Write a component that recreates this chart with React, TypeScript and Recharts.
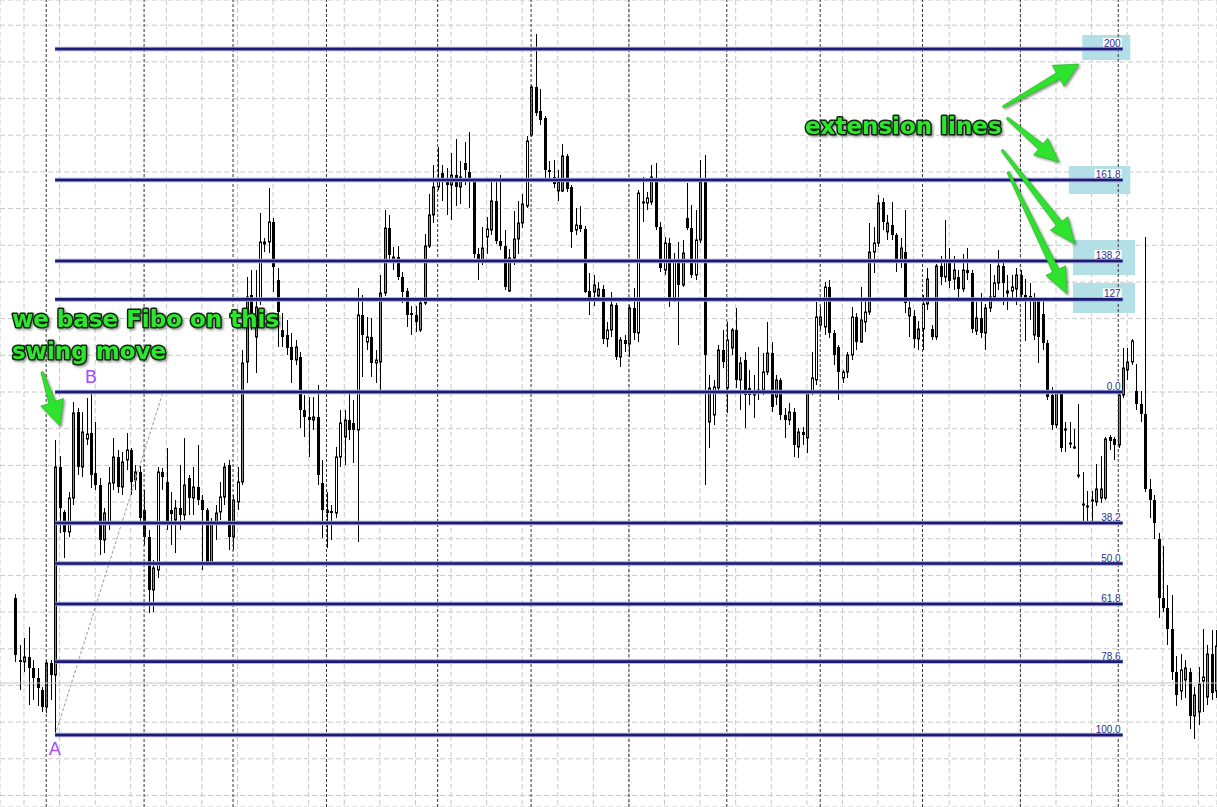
import React from 'react';
import { ComposedChart, Bar, XAxis, YAxis, CartesianGrid, ReferenceLine, ReferenceArea } from 'recharts';

// H1 candles, index 0 = leftmost bar on screen
const OPEN = [
  1.3209, 1.3147, 1.3145, 1.3150, 1.3139, 1.3129, 1.3117, 1.3100, 1.3144, 1.3132,
  1.3340, 1.3295, 1.3275, 1.3309, 1.3395, 1.3340, 1.3368, 1.3374, 1.3334, 1.3322,
  1.3267, 1.3284, 1.3324, 1.3350, 1.3320, 1.3347, 1.3357, 1.3327, 1.3335, 1.3297,
  1.3270, 1.3217, 1.3237, 1.3335, 1.3325, 1.3297, 1.3287, 1.3299, 1.3292, 1.3329,
  1.3309, 1.3320, 1.3307, 1.3297, 1.3244, 1.3284, 1.3295, 1.3310, 1.3342, 1.3270,
  1.3305, 1.3325, 1.3445, 1.3512, 1.3470, 1.3507, 1.3563, 1.3565, 1.3585, 1.3527,
  1.3477, 1.3472, 1.3460, 1.3447, 1.3450, 1.3397, 1.3390, 1.3387, 1.3390, 1.3324,
  1.3297, 1.3296, 1.3294, 1.3350, 1.3370, 1.3387, 1.3384, 1.3377, 1.3492, 1.3465,
  1.3470, 1.3444, 1.3445, 1.3514, 1.3579, 1.3546, 1.3550, 1.3530, 1.3516, 1.3494,
  1.3492, 1.3477, 1.3504, 1.3561, 1.3592, 1.3620, 1.3634, 1.3625, 1.3622, 1.3632,
  1.3620, 1.3644, 1.3635, 1.3625, 1.3553, 1.3547, 1.3570, 1.3577, 1.3606, 1.3566,
  1.3561, 1.3516, 1.3549, 1.3568, 1.3584, 1.3601, 1.3672, 1.3720, 1.3696, 1.3689,
  1.3637, 1.3630, 1.3616, 1.3616, 1.3651, 1.3620, 1.3577, 1.3582, 1.3578, 1.3516,
  1.3515, 1.3511, 1.3518, 1.3468, 1.3477, 1.3502, 1.3450, 1.3467, 1.3463, 1.3499,
  1.3474, 1.3604, 1.3604, 1.3605, 1.3629, 1.3580, 1.3537, 1.3564, 1.3509, 1.3545,
  1.3522, 1.3589, 1.3579, 1.3532, 1.3567, 1.3625, 1.3385, 1.3392, 1.3419, 1.3457,
  1.3419, 1.3459, 1.3477, 1.3427, 1.3447, 1.3419, 1.3412, 1.3414, 1.3417, 1.3435,
  1.3454, 1.3410, 1.3427, 1.3392, 1.3387, 1.3395, 1.3360, 1.3375, 1.3369, 1.3415,
  1.3427, 1.3482, 1.3480, 1.3520, 1.3474, 1.3460, 1.3429, 1.3435, 1.3452, 1.3490,
  1.3465, 1.3485, 1.3495, 1.3555, 1.3564, 1.3605, 1.3575, 1.3582, 1.3572, 1.3545,
  1.3555, 1.3491, 1.3491, 1.3468, 1.3478, 1.3503, 1.3478, 1.3470, 1.3541, 1.3530,
  1.3545, 1.3528, 1.3530, 1.3518, 1.3537, 1.3534, 1.3476, 1.3489, 1.3474, 1.3499,
  1.3510, 1.3524, 1.3541, 1.3514, 1.3516, 1.3518, 1.3532, 1.3512, 1.3511, 1.3472,
  1.3507, 1.3493, 1.3464, 1.3412, 1.3382, 1.3414, 1.3378, 1.3364, 1.3360, 1.3332,
  1.3303, 1.3301, 1.3307, 1.3305, 1.3309, 1.3309, 1.3370, 1.3368, 1.3362, 1.3412,
  1.3437, 1.3445, 1.3416, 1.3403, 1.3393, 1.3318, 1.3307, 1.3268, 1.3209, 1.3199,
  1.3178, 1.3135, 1.3116, 1.3127, 1.3135, 1.3091, 1.3095, 1.3126, 1.3110, 1.3153, 1.3116,
];

const HIGH = [
  1.3213, 1.3162, 1.3169, 1.3180, 1.3147, 1.3139, 1.3120, 1.3147, 1.3147, 1.3367,
  1.3351, 1.3297, 1.3315, 1.3405, 1.3399, 1.3395, 1.3409, 1.3415, 1.3385, 1.3329,
  1.3299, 1.3340, 1.3369, 1.3357, 1.3355, 1.3374, 1.3359, 1.3342, 1.3341, 1.3317,
  1.3277, 1.3247, 1.3340, 1.3339, 1.3359, 1.3315, 1.3307, 1.3342, 1.3369, 1.3332,
  1.3340, 1.3362, 1.3312, 1.3299, 1.3289, 1.3302, 1.3325, 1.3344, 1.3347, 1.3312,
  1.3340, 1.3457, 1.3530, 1.3537, 1.3537, 1.3594, 1.3569, 1.3619, 1.3589, 1.3539,
  1.3494, 1.3487, 1.3474, 1.3467, 1.3455, 1.3412, 1.3410, 1.3410, 1.3422, 1.3347,
  1.3315, 1.3302, 1.3360, 1.3397, 1.3397, 1.3415, 1.3407, 1.3519, 1.3512, 1.3490,
  1.3489, 1.3457, 1.3532, 1.3597, 1.3592, 1.3560, 1.3561, 1.3535, 1.3519, 1.3501,
  1.3501, 1.3509, 1.3573, 1.3613, 1.3642, 1.3660, 1.3642, 1.3639, 1.3654, 1.3668,
  1.3646, 1.3665, 1.3675, 1.3629, 1.3559, 1.3580, 1.3590, 1.3625, 1.3625, 1.3632,
  1.3577, 1.3558, 1.3596, 1.3606, 1.3613, 1.3671, 1.3722, 1.3773, 1.3718, 1.3691,
  1.3646, 1.3647, 1.3637, 1.3663, 1.3653, 1.3622, 1.3599, 1.3601, 1.3581, 1.3534,
  1.3532, 1.3525, 1.3522, 1.3485, 1.3515, 1.3504, 1.3470, 1.3472, 1.3502, 1.3519,
  1.3617, 1.3630, 1.3615, 1.3642, 1.3644, 1.3585, 1.3570, 1.3569, 1.3554, 1.3565,
  1.3567, 1.3624, 1.3602, 1.3597, 1.3647, 1.3652, 1.3432, 1.3427, 1.3462, 1.3477,
  1.3485, 1.3479, 1.3499, 1.3450, 1.3455, 1.3437, 1.3432, 1.3460, 1.3454, 1.3485,
  1.3465, 1.3432, 1.3429, 1.3399, 1.3404, 1.3399, 1.3379, 1.3380, 1.3417, 1.3455,
  1.3505, 1.3500, 1.3525, 1.3527, 1.3477, 1.3462, 1.3437, 1.3455, 1.3500, 1.3494,
  1.3520, 1.3509, 1.3584, 1.3580, 1.3612, 1.3609, 1.3592, 1.3605, 1.3574, 1.3569,
  1.3597, 1.3507, 1.3497, 1.3486, 1.3512, 1.3539, 1.3482, 1.3543, 1.3551, 1.3587,
  1.3559, 1.3551, 1.3537, 1.3553, 1.3559, 1.3537, 1.3505, 1.3514, 1.3503, 1.3543,
  1.3532, 1.3557, 1.3545, 1.3532, 1.3532, 1.3539, 1.3537, 1.3528, 1.3524, 1.3514,
  1.3509, 1.3507, 1.3467, 1.3420, 1.3417, 1.3417, 1.3385, 1.3385, 1.3378, 1.3403,
  1.3335, 1.3316, 1.3316, 1.3343, 1.3351, 1.3370, 1.3372, 1.3370, 1.3414, 1.3459,
  1.3459, 1.3468, 1.3443, 1.3416, 1.3570, 1.3328, 1.3312, 1.3274, 1.3261, 1.3222,
  1.3212, 1.3151, 1.3153, 1.3147, 1.3139, 1.3120, 1.3140, 1.3178, 1.3162, 1.3177, 1.3177,
];

const LOW = [
  1.3145, 1.3117, 1.3135, 1.3102, 1.3107, 1.3101, 1.3095, 1.3094, 1.3107, 1.3072,
  1.3274, 1.3249, 1.3270, 1.3302, 1.3332, 1.3330, 1.3362, 1.3319, 1.3317, 1.3252,
  1.3254, 1.3277, 1.3317, 1.3314, 1.3312, 1.3337, 1.3312, 1.3317, 1.3282, 1.3262,
  1.3194, 1.3195, 1.3229, 1.3317, 1.3277, 1.3262, 1.3254, 1.3277, 1.3287, 1.3292,
  1.3292, 1.3302, 1.3237, 1.3242, 1.3242, 1.3267, 1.3287, 1.3302, 1.3257, 1.3257,
  1.3297, 1.3322, 1.3424, 1.3477, 1.3434, 1.3502, 1.3555, 1.3554, 1.3515, 1.3460,
  1.3460, 1.3452, 1.3424, 1.3442, 1.3379, 1.3370, 1.3350, 1.3377, 1.3322, 1.3269,
  1.3259, 1.3267, 1.3289, 1.3340, 1.3342, 1.3367, 1.3344, 1.3265, 1.3430, 1.3457,
  1.3430, 1.3424, 1.3415, 1.3511, 1.3545, 1.3537, 1.3527, 1.3504, 1.3480, 1.3472,
  1.3475, 1.3475, 1.3502, 1.3559, 1.3584, 1.3617, 1.3606, 1.3592, 1.3587, 1.3601,
  1.3603, 1.3622, 1.3599, 1.3549, 1.3527, 1.3542, 1.3553, 1.3572, 1.3563, 1.3557,
  1.3517, 1.3515, 1.3542, 1.3553, 1.3579, 1.3599, 1.3670, 1.3691, 1.3682, 1.3625,
  1.3625, 1.3619, 1.3606, 1.3615, 1.3615, 1.3559, 1.3572, 1.3575, 1.3514, 1.3492,
  1.3501, 1.3509, 1.3463, 1.3460, 1.3470, 1.3447, 1.3440, 1.3455, 1.3450, 1.3467,
  1.3465, 1.3585, 1.3597, 1.3602, 1.3577, 1.3535, 1.3532, 1.3500, 1.3505, 1.3462,
  1.3520, 1.3577, 1.3529, 1.3527, 1.3564, 1.3322, 1.3359, 1.3382, 1.3414, 1.3439,
  1.3394, 1.3452, 1.3419, 1.3397, 1.3379, 1.3402, 1.3389, 1.3407, 1.3412, 1.3432,
  1.3395, 1.3402, 1.3387, 1.3369, 1.3382, 1.3350, 1.3349, 1.3362, 1.3354, 1.3412,
  1.3422, 1.3477, 1.3472, 1.3469, 1.3442, 1.3407, 1.3424, 1.3429, 1.3447, 1.3457,
  1.3464, 1.3475, 1.3492, 1.3534, 1.3560, 1.3577, 1.3567, 1.3567, 1.3535, 1.3539,
  1.3494, 1.3470, 1.3459, 1.3457, 1.3457, 1.3497, 1.3467, 1.3467, 1.3522, 1.3525,
  1.3519, 1.3517, 1.3507, 1.3515, 1.3527, 1.3474, 1.3472, 1.3469, 1.3457, 1.3495,
  1.3507, 1.3517, 1.3502, 1.3497, 1.3507, 1.3502, 1.3507, 1.3466, 1.3487, 1.3467,
  1.3444, 1.3457, 1.3407, 1.3377, 1.3379, 1.3355, 1.3355, 1.3359, 1.3358, 1.3329,
  1.3286, 1.3286, 1.3284, 1.3301, 1.3304, 1.3307, 1.3357, 1.3347, 1.3359, 1.3409,
  1.3427, 1.3442, 1.3397, 1.3385, 1.3315, 1.3289, 1.3268, 1.3189, 1.3195, 1.3162,
  1.3127, 1.3101, 1.3107, 1.3109, 1.3078, 1.3068, 1.3082, 1.3095, 1.3102, 1.3107, 1.3109,
];

const CLOSE = [
  1.3152, 1.3145, 1.3150, 1.3139, 1.3129, 1.3119, 1.3100, 1.3144, 1.3132, 1.3340,
  1.3299, 1.3275, 1.3309, 1.3394, 1.3340, 1.3375, 1.3373, 1.3332, 1.3322, 1.3267,
  1.3294, 1.3324, 1.3350, 1.3320, 1.3345, 1.3357, 1.3325, 1.3335, 1.3289, 1.3270,
  1.3217, 1.3239, 1.3335, 1.3330, 1.3284, 1.3293, 1.3299, 1.3292, 1.3322, 1.3309,
  1.3320, 1.3307, 1.3297, 1.3245, 1.3285, 1.3294, 1.3310, 1.3340, 1.3270, 1.3307,
  1.3325, 1.3444, 1.3510, 1.3487, 1.3500, 1.3565, 1.3565, 1.3585, 1.3540, 1.3495,
  1.3470, 1.3459, 1.3447, 1.3460, 1.3397, 1.3390, 1.3387, 1.3390, 1.3332, 1.3297,
  1.3294, 1.3294, 1.3350, 1.3384, 1.3387, 1.3377, 1.3377, 1.3492, 1.3472, 1.3470,
  1.3444, 1.3447, 1.3514, 1.3579, 1.3552, 1.3550, 1.3530, 1.3515, 1.3492, 1.3492,
  1.3485, 1.3504, 1.3561, 1.3592, 1.3620, 1.3628, 1.3627, 1.3622, 1.3632, 1.3620,
  1.3630, 1.3637, 1.3625, 1.3553, 1.3547, 1.3559, 1.3578, 1.3606, 1.3566, 1.3561,
  1.3520, 1.3549, 1.3568, 1.3584, 1.3603, 1.3666, 1.3720, 1.3694, 1.3687, 1.3637,
  1.3635, 1.3623, 1.3625, 1.3651, 1.3618, 1.3575, 1.3582, 1.3578, 1.3515, 1.3506,
  1.3522, 1.3518, 1.3468, 1.3477, 1.3502, 1.3450, 1.3467, 1.3463, 1.3499, 1.3474,
  1.3614, 1.3605, 1.3609, 1.3630, 1.3580, 1.3539, 1.3564, 1.3509, 1.3545, 1.3522,
  1.3554, 1.3579, 1.3532, 1.3567, 1.3625, 1.3452, 1.3419, 1.3420, 1.3457, 1.3445,
  1.3467, 1.3477, 1.3427, 1.3444, 1.3412, 1.3412, 1.3415, 1.3417, 1.3435, 1.3454,
  1.3400, 1.3427, 1.3392, 1.3387, 1.3395, 1.3362, 1.3375, 1.3372, 1.3415, 1.3429,
  1.3490, 1.3490, 1.3520, 1.3474, 1.3452, 1.3435, 1.3435, 1.3452, 1.3490, 1.3465,
  1.3487, 1.3495, 1.3555, 1.3564, 1.3604, 1.3585, 1.3584, 1.3572, 1.3545, 1.3559,
  1.3504, 1.3499, 1.3468, 1.3478, 1.3503, 1.3528, 1.3470, 1.3541, 1.3530, 1.3545,
  1.3526, 1.3537, 1.3518, 1.3537, 1.3534, 1.3478, 1.3489, 1.3474, 1.3499, 1.3510,
  1.3524, 1.3541, 1.3524, 1.3516, 1.3520, 1.3532, 1.3512, 1.3509, 1.3508, 1.3509,
  1.3470, 1.3464, 1.3410, 1.3382, 1.3414, 1.3359, 1.3378, 1.3364, 1.3360, 1.3332,
  1.3303, 1.3301, 1.3307, 1.3318, 1.3318, 1.3368, 1.3366, 1.3362, 1.3412, 1.3439,
  1.3445, 1.3466, 1.3403, 1.3393, 1.3318, 1.3307, 1.3284, 1.3209, 1.3199, 1.3178,
  1.3135, 1.3112, 1.3137, 1.3139, 1.3091, 1.3112, 1.3123, 1.3130, 1.3153, 1.3114, 1.3161,
];

// bull bars that render white instead of grey
const HOLLOW_BULLS = [12, 16, 21, 25, 32, 46, 50, 55, 56, 57, 72, 73, 77, 79, 81, 95, 106, 115, 126, 133, 140, 141, 142, 146, 148, 153, 157, 160, 168, 179, 180, 182, 186, 188, 191, 193, 204, 209, 220, 224, 242, 251, 262, 267];

// fibo drawn from swing low A to swing high B
const SWING_LOW = 1.3072;
const SWING_HIGH = 1.3415;
const RETRACE_LEVELS = [0, 38.2, 50, 61.8, 78.6, 100];
const RETRACE_LABELS = ['0.0', '38.2', '50.0', '61.8', '78.6', '100.0'];
const EXT_LEVELS = [127, 138.2, 161.8, 200];
const EXT_LABELS = ['127', '138.2', '161.8', '200'];

const FIBO_START = 9;
const FIBO_END = 249;
const FIBO_B_ANCHOR = 33.25;

const SESSION_BREAKS = [7, 29, 49, 70, 95, 116, 138, 160, 181, 204, 226, 248];
const LAST_PRICE = 1.3124;

const X_GRID = [2, 10, 18, 26, 34, 42, 50, 58, 66, 74, 82, 90, 98, 106, 114, 122, 130, 138, 146, 154, 162, 170, 178, 186, 194, 202, 210, 218, 226, 234, 242, 250, 258, 266];
const Y_GRID = [1.30115, 1.30482, 1.30849, 1.31216, 1.31582, 1.31949, 1.32316, 1.32683, 1.3305, 1.33416, 1.33783, 1.3415, 1.34517, 1.34884, 1.3525, 1.35617, 1.35984, 1.36351, 1.36718, 1.37084, 1.37451, 1.37818];

const X_DOMAIN = [-3.39, 270.2];
const Y_DOMAIN = [1.3, 1.3807];

// light blue highlight boxes behind the extension labels
const EXT_BOXES = [
  { x1: 239.9, x2: 250.7, y1: 1.3747, y2: 1.3772 },
  { x1: 236.9, x2: 250.7, y1: 1.3613, y2: 1.3641 },
  { x1: 237.8, x2: 251.8, y1: 1.3532, y2: 1.3567 },
  { x1: 237.8, x2: 251.8, y1: 1.3494, y2: 1.3524 },
];

const hollow = new Set(HOLLOW_BULLS);
const range = SWING_HIGH - SWING_LOW;
const retracePrices = RETRACE_LEVELS.map((l) => SWING_HIGH - (l / 100) * range);
const extPrices = EXT_LEVELS.map((l) => SWING_LOW + (l / 100) * range);

const candles = OPEN.map((open, idx) => ({
  idx,
  open,
  high: HIGH[idx],
  low: LOW[idx],
  close: CLOSE[idx],
  range: [LOW[idx], HIGH[idx]],
}));

const Candle = (props: any) => {
  const { x, y, width, height, payload } = props;
  if (payload == null || height == null) return null;
  const { open, high, low, close, idx } = payload;
  const cx = Math.round(x + width / 2) + 0.5;
  const span = high - low || 1e-9;
  const py = (p: number) => y + ((high - p) / span) * height;
  const top = py(Math.max(open, close));
  const bot = py(Math.min(open, close));
  const bull = close >= open;
  return (
    <g>
      <line x1={cx} x2={cx} y1={y} y2={y + height} stroke="#000" strokeWidth={1} />
      {bull ? (
        <rect x={cx - 1} y={top} width={2} height={Math.max(bot - top, 1)} fill={hollow.has(idx) ? '#fff' : '#8a8a8a'} stroke="#000" strokeWidth={1} />
      ) : (
        <rect x={cx - 1.5} y={top} width={3} height={Math.max(bot - top, 1)} fill="#000" />
      )}
    </g>
  );
};

const labelWidth = (t: string) => t.split('').reduce((s, c) => s + (c === '.' ? 2.8 : 5.6), 0);

const FibLabel = (props: any) => {
  const { viewBox, text } = props;
  if (!viewBox) return null;
  const right = viewBox.x + viewBox.width - 2;
  const base = viewBox.y - 2;
  const w = labelWidth(text);
  return (
    <g>
      <rect x={right - w - 1} y={base - 9} width={w + 2} height={9} fill="#fff" />
      <text x={right} y={base} textAnchor="end" fontSize={10} fontFamily="'Liberation Sans', Arial, sans-serif" fill="#2d2d8c">
        {text}
      </text>
    </g>
  );
};

const arrowPoints = (x1: number, y1: number, x2: number, y2: number, headLen: number, headHalf: number) => {
  const len = Math.hypot(x2 - x1, y2 - y1);
  const ux = (x2 - x1) / len;
  const uy = (y2 - y1) / len;
  const nx = -uy;
  const ny = ux;
  const bx = x2 - ux * headLen;
  const by = y2 - uy * headLen;
  const pts = [
    [x1 + nx * 1.2, y1 + ny * 1.2],
    [bx + nx * 3.5, by + ny * 3.5],
    [bx + nx * headHalf, by + ny * headHalf],
    [x2, y2],
    [bx - nx * headHalf, by - ny * headHalf],
    [bx - nx * 3.5, by - ny * 3.5],
    [x1 - nx * 1.2, y1 - ny * 1.2],
  ];
  return pts.map((p) => p.join(',')).join(' ');
};

const ARROWS = [
  [42, 372, 60, 426, 25, 12],
  [1003, 107, 1079, 64, 24, 12],
  [1007, 118, 1059, 162, 24, 11],
  [1002, 150, 1075, 244, 26, 11],
  [1008, 172, 1067, 294, 26, 11],
];

const noteStyle = {
  fontFamily: "'DejaVu Sans', Verdana, sans-serif",
  fontWeight: 700,
  fontSize: 23,
};

export default function App() {
  return (
    <div style={{ position: 'absolute', left: 0, top: 0, width: 1217, height: 807, background: '#fff', overflow: 'hidden' }}>
      <ComposedChart width={1217} height={807} data={candles} margin={{ top: 0, right: 0, bottom: 0, left: 0 }}>
        <CartesianGrid stroke="#c8c8c8" strokeDasharray="5 3" />
        <XAxis dataKey="idx" type="number" domain={X_DOMAIN} allowDataOverflow ticks={X_GRID} hide />
        <YAxis type="number" domain={Y_DOMAIN} allowDataOverflow ticks={Y_GRID} hide />
        {SESSION_BREAKS.map((b) => (
          <ReferenceLine key={`s${b}`} x={b} stroke="#333" strokeDasharray="3 2" />
        ))}
        <ReferenceLine y={LAST_PRICE} stroke="#c4c4c4" />
        <ReferenceLine
          segment={[{ x: FIBO_START, y: SWING_LOW }, { x: FIBO_B_ANCHOR, y: SWING_HIGH }]}
          stroke="#9a9a9a"
          strokeDasharray="3 2"
        />
        {EXT_BOXES.map((b, i) => (
          <ReferenceArea key={`box${i}`} x1={b.x1} x2={b.x2} y1={b.y1} y2={b.y2} fill="#b3dfe7" fillOpacity={1} stroke="none" />
        ))}
        <Bar dataKey="range" shape={Candle} isAnimationActive={false} barSize={3} />
        {[...retracePrices, ...extPrices].map((p, i) => (
          <ReferenceLine key={`h${i}`} segment={[{ x: FIBO_START, y: p }, { x: FIBO_END, y: p }]} stroke="#9fa2d4" strokeWidth={4.5} />
        ))}
        {retracePrices.map((p, i) => (
          <ReferenceLine
            key={`r${i}`}
            segment={[{ x: FIBO_START, y: p }, { x: FIBO_END, y: p }]}
            stroke="#1b1b74"
            strokeWidth={2.6}
            label={<FibLabel text={RETRACE_LABELS[i]} />}
          />
        ))}
        {extPrices.map((p, i) => (
          <ReferenceLine
            key={`e${i}`}
            segment={[{ x: FIBO_START, y: p }, { x: FIBO_END, y: p }]}
            stroke="#1b1b74"
            strokeWidth={2.6}
            label={<FibLabel text={EXT_LABELS[i]} />}
          />
        ))}
      </ComposedChart>
      <svg width={1217} height={807} style={{ position: 'absolute', left: 0, top: 0, pointerEvents: 'none' }}>
        <defs>
          <filter id="shadow" x="-20%" y="-20%" width="140%" height="140%">
            <feDropShadow dx="1.5" dy="1.5" stdDeviation="1.3" floodColor="#000" floodOpacity="0.45" />
          </filter>
        </defs>
        {ARROWS.map((a, i) => (
          <polygon key={`a${i}`} points={arrowPoints(a[0], a[1], a[2], a[3], a[4], a[5])} fill="#2fe32f" stroke="#1fa81f" strokeWidth={0.6} filter="url(#shadow)" />
        ))}
        <g style={noteStyle} fill="#2fe62f" stroke="#0c260c" strokeWidth={3} strokeLinejoin="round" paintOrder="stroke" filter="url(#shadow)">
          <text x={805} y={134}>extension lines</text>
          <text x={12} y={327}>we base Fibo on this</text>
          <text x={12} y={359}>swing move</text>
        </g>
        <g fontFamily="'DejaVu Sans', sans-serif" fontSize={18} fill="#a64dff">
          <text x={55} y={755} textAnchor="middle">A</text>
          <text x={91} y={383} textAnchor="middle">B</text>
        </g>
      </svg>
    </div>
  );
}
